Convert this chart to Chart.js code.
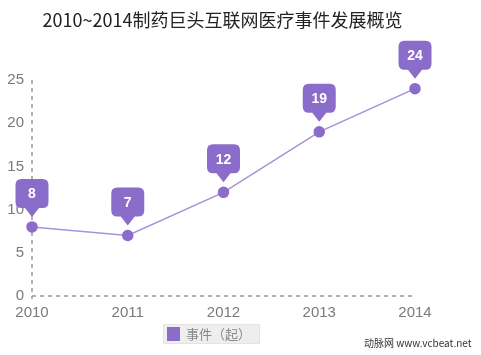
<!DOCTYPE html>
<html><head><meta charset="utf-8">
<script src="https://cdn.jsdelivr.net/npm/chart.js@4"></script>
<style>
html,body{margin:0;padding:0;background:#fff;}
#wrap{position:relative;width:481px;height:355px;font-family:"Noto Sans CJK SC","Noto Sans",sans-serif;}
#title{position:absolute;left:0;width:445px;top:6px;text-align:center;font-size:18px;color:#222;white-space:nowrap;}
#legend{position:absolute;left:163px;top:324px;width:97px;height:20px;background:#eeeeee;border:1px solid #e4e4e4;box-sizing:border-box;}
#legend .sw{position:absolute;left:3px;top:2px;width:13px;height:14px;background:#8a6dcb;}
#legend .tx{position:absolute;left:22px;top:0px;font-size:13px;line-height:18px;color:#888;}
#wm{position:absolute;left:364px;top:335px;font-size:10px;color:#333;white-space:nowrap;}
canvas{position:absolute;left:0;top:0;}
</style></head>
<body><div id="wrap">
<canvas id="c" width="481" height="355"></canvas>
<div id="title">2010~2014制药巨头互联网医疗事件发展概览</div>
<div id="legend"><div class="sw"></div><div class="tx">事件（起）</div></div>
<div id="wm">动脉网 www.vcbeat.net</div>
</div>
<script>
const years = ['2010','2011','2012','2013','2014'];
const events = [8, 7, 12, 19, 24];
const yTicks = [0, 5, 10, 15, 20, 25];
const seriesName = '事件（起）';

const purple = '#8a6dcb';

const dashedAxes = {
  id: 'dashedAxes',
  beforeDatasetsDraw(chart) {
    const ctx = chart.ctx;
    const a = chart.chartArea;
    ctx.save();
    ctx.strokeStyle = '#9a9a9a';
    ctx.lineWidth = 1.5;
    ctx.setLineDash([4, 4]);
    ctx.beginPath();
    ctx.moveTo(a.left, a.top);
    ctx.lineTo(a.left, a.bottom + 3);
    ctx.stroke();
    ctx.beginPath();
    ctx.moveTo(a.left, a.bottom);
    ctx.lineTo(a.right, a.bottom);
    ctx.stroke();
    ctx.restore();
  }
};

const callouts = {
  id: 'callouts',
  afterDatasetsDraw(chart) {
    const ctx = chart.ctx;
    const meta = chart.getDatasetMeta(0);
    ctx.save();
    meta.data.forEach((pt, i) => {
      const x = pt.x, y = pt.y;
      const w = 33, h = 29, r = 6;
      const bottom = y - 19, top = bottom - h, left = x - w / 2;
      ctx.fillStyle = purple;
      ctx.beginPath();
      ctx.moveTo(left + r, top);
      ctx.lineTo(left + w - r, top);
      ctx.quadraticCurveTo(left + w, top, left + w, top + r);
      ctx.lineTo(left + w, bottom - r);
      ctx.quadraticCurveTo(left + w, bottom, left + w - r, bottom);
      ctx.lineTo(x + 7, bottom);
      ctx.lineTo(x, y - 10);
      ctx.lineTo(x - 7, bottom);
      ctx.lineTo(left + r, bottom);
      ctx.quadraticCurveTo(left, bottom, left, bottom - r);
      ctx.lineTo(left, top + r);
      ctx.quadraticCurveTo(left, top, left + r, top);
      ctx.closePath();
      ctx.fill();
      ctx.fillStyle = '#fff';
      ctx.font = 'bold 14px "Liberation Sans", Arial, sans-serif';
      ctx.textAlign = 'center';
      ctx.textBaseline = 'middle';
      ctx.fillText(String(events[i]), x, top + h / 2 + 1);
    });
    ctx.restore();
  }
};

new Chart(document.getElementById('c'), {
  type: 'line',
  data: {
    labels: years,
    datasets: [{
      label: seriesName,
      data: events,
      borderColor: '#a592d9',
      borderWidth: 1.5,
      backgroundColor: purple,
      pointBackgroundColor: purple,
      pointBorderColor: purple,
      pointRadius: 5,
      tension: 0,
      fill: false,
      clip: false
    }]
  },
  options: {
    responsive: false,
    animation: false,
    devicePixelRatio: 1,
    layout: { padding: { left: 0, right: 66, top: 80, bottom: 0 } },
    plugins: { legend: { display: false }, title: { display: false }, tooltip: { enabled: false } },
    scales: {
      x: {
        type: 'category',
        offset: false,
        grid: { display: false, drawTicks: false },
        border: { display: false },
        ticks: { color: '#7a7a7a', font: { size: 15, family: '"Liberation Sans", Arial, sans-serif' }, padding: 8, maxRotation: 0 },
        afterFit(s) { s.height = 59; }
      },
      y: {
        min: 0, max: 25,
        afterBuildTicks(s) { s.ticks = yTicks.map(v => ({ value: v })); },
        grid: { display: false, drawTicks: false },
        border: { display: false },
        ticks: { color: '#7a7a7a', font: { size: 15, family: '"Liberation Sans", Arial, sans-serif' }, padding: 8 },
        afterFit(s) { s.width = 32; }
      }
    }
  },
  plugins: [dashedAxes, callouts]
});
</script>
</body></html>
